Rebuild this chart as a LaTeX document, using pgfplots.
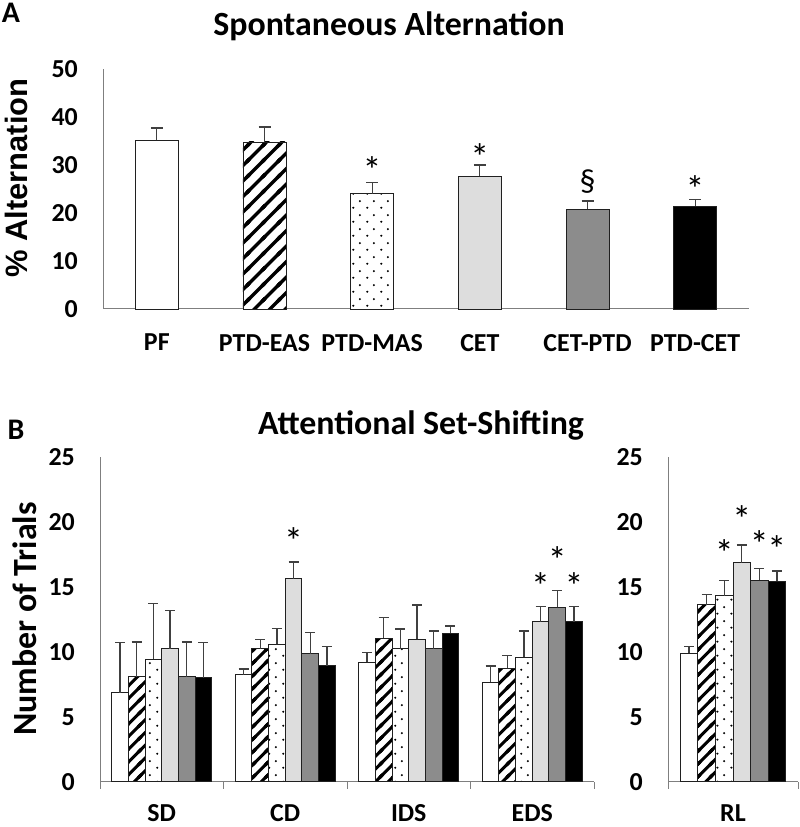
\documentclass[border=0pt]{standalone}
\usepackage{pgfplots}
\pgfplotsset{compat=1.18}
\usepackage{fontspec}
\setmainfont{Carlito}
\newfontfamily\arialfont{Liberation Sans}
\usetikzlibrary{patterns}

\definecolor{axisgray}{HTML}{7F7F7F}
\definecolor{lgray}{HTML}{DDDDDD}
\definecolor{mgray}{HTML}{8C8C8C}
\definecolor{barline}{HTML}{202020}
\definecolor{errc}{HTML}{404040}

% thick diagonal stripes, two spacings
\pgfdeclarepatternformonly{hatchA}{\pgfpoint{-2bp}{-2bp}}{\pgfpoint{17.5bp}{17.5bp}}{\pgfpoint{15.5bp}{15.5bp}}{%
  \pgfsetlinewidth{3.3bp}%
  \pgfpathmoveto{\pgfpoint{-2bp}{-2bp}}\pgfpathlineto{\pgfpoint{17.5bp}{17.5bp}}%
  \pgfpathmoveto{\pgfpoint{-2bp}{13.5bp}}\pgfpathlineto{\pgfpoint{2bp}{17.5bp}}%
  \pgfpathmoveto{\pgfpoint{13.5bp}{-2bp}}\pgfpathlineto{\pgfpoint{17.5bp}{2bp}}%
  \pgfusepath{stroke}}
\pgfdeclarepatternformonly{hatchB}{\pgfpoint{-2bp}{-2bp}}{\pgfpoint{14.7bp}{14.7bp}}{\pgfpoint{12.7bp}{12.7bp}}{%
  \pgfsetlinewidth{3bp}%
  \pgfpathmoveto{\pgfpoint{-2bp}{-2bp}}\pgfpathlineto{\pgfpoint{14.7bp}{14.7bp}}%
  \pgfpathmoveto{\pgfpoint{-2bp}{10.7bp}}\pgfpathlineto{\pgfpoint{2bp}{14.7bp}}%
  \pgfpathmoveto{\pgfpoint{10.7bp}{-2bp}}\pgfpathlineto{\pgfpoint{14.7bp}{2bp}}%
  \pgfusepath{stroke}}
% sparse staggered dots
\pgfdeclarepatternformonly{dotsP}{\pgfpointorigin}{\pgfpoint{14bp}{14bp}}{\pgfpoint{14bp}{14bp}}{%
  \pgfpathcircle{\pgfpoint{3.5bp}{3.5bp}}{1.2bp}%
  \pgfpathcircle{\pgfpoint{10.5bp}{10.5bp}}{1.2bp}%
  \pgfusepath{fill}}

\pgfplotsset{
  panel/.style={
    scale only axis, anchor=south west, clip=false,
    axis x line=bottom, axis y line=left,
    axis line style={-, draw=axisgray, line width=1bp},
    major tick length=0pt,
    tick style={draw=axisgray, line width=1bp},
    ymin=0,
    tick label style={font=\bfseries\fontsize{26}{26}\selectfont},
    /pgf/number format/assume math mode=true,
    yticklabel style={inner sep=0pt, anchor=east, xshift=-25bp},
    xticklabel style={inner sep=0pt, anchor=north, yshift=-25bp},
    ybar=0pt,
    error bars/y dir=plus, error bars/y explicit,
    error bars/error bar style={draw=errc, line width=1.3bp},
  },
  capA/.style={error bars/error mark options={rotate=90, draw=errc, line width=1.3bp, mark size=6bp}},
  capB/.style={error bars/error mark options={rotate=90, draw=errc, line width=1.3bp, mark size=5bp}},
  sPF/.style={draw=barline, line width=0.9bp, fill=white},
  sEAS/.style={draw=barline, line width=0.9bp, fill=white, postaction={pattern=#1}},
  sMAS/.style={draw=barline, line width=0.9bp, fill=white, postaction={pattern=dotsP}},
  sCET/.style={draw=barline, line width=0.9bp, fill=lgray},
  sCP/.style={draw=barline, line width=0.9bp, fill=mgray},
  sPC/.style={draw=barline, line width=0.9bp, fill=black},
}
\tikzset{sig/.style={font=\fontsize{38}{38}\selectfont, inner sep=0pt, yshift=-6.8bp}}

\begin{document}
\begin{tikzpicture}
\useasboundingbox (0,0) rectangle (800bp,827bp);

% ---- panel A
\node[font=\bfseries\fontsize{30}{30}\selectfont] at (11bp,814bp) {A};
\node[font=\bfseries\fontsize{34}{34}\selectfont] at (389bp,801bp) {Spontaneous Alternation};
\node[font=\arialfont\bfseries\fontsize{31}{31}\selectfont, rotate=90] at (16bp,649bp) {\% Alternation};

\begin{axis}[panel, capA, at={(103bp,518bp)}, width=646bp, height=240bp,
  xmin=-0.5, xmax=5.5, ymax=50, ytick={0,10,...,50},
  bar width=0.4, bar shift=0pt,
  xtick={0,...,5}, xticklabels={PF,PTD-EAS,PTD-MAS,CET,CET-PTD,PTD-CET}]
\addplot[sPF] coordinates {(0,35.2) +- (0,2.5)};
\addplot[sEAS=hatchA] coordinates {(1,34.8) +- (0,3.1)};
\addplot[sMAS] coordinates {(2,24.0) +- (0,2.3)};
\addplot[sCET] coordinates {(3,27.7) +- (0,2.3)};
\addplot[sCP] coordinates {(4,20.8) +- (0,1.7)};
\addplot[sPC] coordinates {(5,21.4) +- (0,1.45)};
\node[sig] at (axis cs:2,30.4) {*};
\node[sig] at (axis cs:3,33.1) {*};
\node[font=\fontsize{32}{32}\selectfont] at (axis cs:4,26.5) {\S};
\node[sig] at (axis cs:5,26.5) {*};
\end{axis}

% ---- panel B
\node[font=\bfseries\fontsize{30}{30}\selectfont] at (16bp,397bp) {B};
\node[font=\bfseries\fontsize{34}{34}\selectfont] at (421bp,402bp) {Attentional Set-Shifting};
\node[font=\bfseries\fontsize{34}{34}\selectfont, rotate=90] at (25bp,208bp) {Number of Trials};

\begin{axis}[panel, capB, at={(100bp,45.3bp)}, width=494bp, height=325bp,
  xmin=-0.5, xmax=3.5, ymax=25, ytick={0,5,...,25},
  bar width=0.135,
  xticklabel style={yshift=2bp},
  xtick={0,1,2,3}, xticklabels={SD,CD,IDS,EDS},
  extra x ticks={-0.5,0.5,1.5,2.5,3.5}, extra x tick labels={},
  extra x tick style={major tick length=7bp, tick align=outside}]
\addplot[sPF, bar shift=-0.3375] coordinates {(0,6.85) +- (0,3.85) (1,8.23) +- (0,0.44) (2,9.18) +- (0,0.77) (3,7.67) +- (0,1.23)};
\addplot[sEAS=hatchB, bar shift=-0.2025] coordinates {(0,8.08) +- (0,2.67) (1,10.23) +- (0,0.72) (2,11.05) +- (0,1.6) (3,8.72) +- (0,1.0)};
\addplot[sMAS, bar shift=-0.0675] coordinates {(0,9.44) +- (0,4.26) (1,10.57) +- (0,1.23) (2,10.23) +- (0,1.52) (3,9.59) +- (0,2.0)};
\addplot[sCET, bar shift=0.0675] coordinates {(0,10.23) +- (0,2.92) (1,15.6) +- (0,1.3) (2,10.95) +- (0,2.65) (3,12.3) +- (0,1.16)};
\addplot[sCP, bar shift=0.2025] coordinates {(0,8.08) +- (0,2.67) (1,9.85) +- (0,1.61) (2,10.23) +- (0,1.37) (3,13.4) +- (0,1.3)};
\addplot[sPC, bar shift=0.3375] coordinates {(0,8.0) +- (0,2.7) (1,8.92) +- (0,1.46) (2,11.4) +- (0,0.58) (3,12.3) +- (0,1.16)};
\node[sig] at (axis cs:1.0675,19.0) {*};
\node[sig] at (axis cs:3.0675,15.6) {*};
\node[sig] at (axis cs:3.2025,17.6) {*};
\node[sig] at (axis cs:3.3375,15.6) {*};
\end{axis}

\begin{axis}[panel, capB, at={(668bp,45.3bp)}, width=130bp, height=325bp,
  xmin=-0.5, xmax=0.5, ymax=25, ytick={0,5,...,25},
  bar width=0.135,
  xticklabel style={yshift=2bp},
  xtick={0}, xticklabels={RL},
  extra x ticks={-0.5,0.5}, extra x tick labels={},
  extra x tick style={major tick length=7bp, tick align=outside}]
\addplot[sPF, bar shift=-0.3375] coordinates {(0,9.9) +- (0,0.5)};
\addplot[sEAS=hatchB, bar shift=-0.2025] coordinates {(0,13.6) +- (0,0.8)};
\addplot[sMAS, bar shift=-0.0675] coordinates {(0,14.3) +- (0,1.2)};
\addplot[sCET, bar shift=0.0675] coordinates {(0,16.85) +- (0,1.35)};
\addplot[sCP, bar shift=0.2025] coordinates {(0,15.5) +- (0,0.9)};
\addplot[sPC, bar shift=0.3375] coordinates {(0,15.4) +- (0,0.8)};
\node[sig] at (axis cs:-0.0675,18.1) {*};
\node[sig] at (axis cs:0.0675,20.7) {*};
\node[sig] at (axis cs:0.2025,18.8) {*};
\node[sig] at (axis cs:0.3375,18.4) {*};
\end{axis}
\end{tikzpicture}
\end{document}
